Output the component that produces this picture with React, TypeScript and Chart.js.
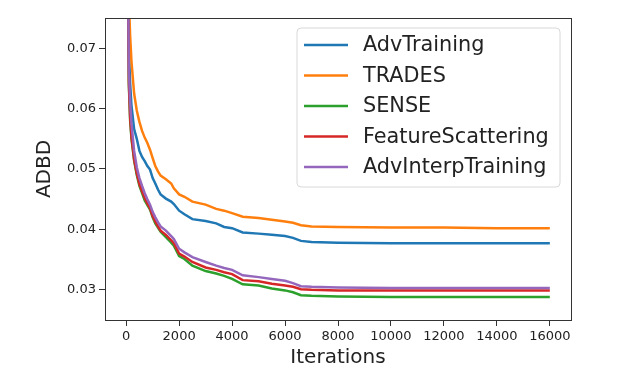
import React, { useEffect, useRef } from "react";
import { Chart, registerables } from "chart.js";

Chart.register(...registerables);

const iterations = [0, 100, 150, 200, 300, 400, 500, 600, 700, 800, 900, 1000, 1100, 1200, 1300, 1500, 1700, 1800, 2000, 2200, 2500, 3000, 3400, 3700, 4000, 4400, 5000, 5500, 6000, 6300, 6600, 7000, 8000, 10000, 12000, 14000, 16000];

const advTraining = [0.12, 0.070, 0.0641, 0.0605, 0.0566, 0.0550, 0.0530, 0.0520, 0.0513, 0.0505, 0.0499, 0.0485, 0.0476, 0.0466, 0.0458, 0.0451, 0.0446, 0.0442, 0.0431, 0.0425, 0.0417, 0.0414, 0.0410, 0.0404, 0.0402, 0.0395, 0.0393, 0.0391, 0.0389, 0.0386, 0.0381, 0.0379, 0.0378, 0.0377, 0.0377, 0.0377, 0.0377];
const trades = [0.13, 0.078, 0.072, 0.0678, 0.0625, 0.0597, 0.0578, 0.0563, 0.0552, 0.0543, 0.0532, 0.0518, 0.0505, 0.0496, 0.0489, 0.0483, 0.0476, 0.0468, 0.0458, 0.0454, 0.0446, 0.0441, 0.0434, 0.0431, 0.0427, 0.0421, 0.0419, 0.0416, 0.0413, 0.0411, 0.0407, 0.0405, 0.0404, 0.0403, 0.0403, 0.0402, 0.0402];
const sense = [0.12, 0.064, 0.058, 0.0550, 0.0514, 0.0490, 0.0472, 0.0460, 0.0448, 0.0440, 0.0433, 0.0420, 0.0410, 0.0403, 0.0396, 0.0387, 0.0378, 0.0373, 0.0356, 0.0351, 0.0340, 0.0331, 0.0327, 0.0323, 0.0318, 0.0309, 0.0307, 0.0302, 0.0299, 0.0296, 0.0291, 0.0290, 0.0289, 0.0288, 0.0288, 0.0288, 0.0288];
const featureScattering = [0.12, 0.0645, 0.0585, 0.0553, 0.0516, 0.0493, 0.0475, 0.0463, 0.0452, 0.0443, 0.0435, 0.0422, 0.0413, 0.0405, 0.0398, 0.0391, 0.0382, 0.0377, 0.0360, 0.0355, 0.0346, 0.0337, 0.0333, 0.0329, 0.0326, 0.0316, 0.0314, 0.0310, 0.0307, 0.0305, 0.0301, 0.0300, 0.0299, 0.0299, 0.0299, 0.0299, 0.0299];
const advInterpTraining = [0.12, 0.0665, 0.061, 0.0575, 0.0530, 0.0503, 0.0485, 0.0472, 0.0460, 0.0450, 0.0441, 0.0429, 0.0420, 0.0412, 0.0405, 0.0398, 0.0389, 0.0384, 0.0368, 0.0362, 0.0354, 0.0346, 0.0340, 0.0336, 0.0333, 0.0324, 0.0321, 0.0318, 0.0315, 0.0311, 0.0306, 0.0305, 0.0304, 0.0303, 0.0303, 0.0303, 0.0303];

const seriesNames = ["AdvTraining", "TRADES", "SENSE", "FeatureScattering", "AdvInterpTraining"];
const seriesValues = [advTraining, trades, sense, featureScattering, advInterpTraining];
const seriesColors = ["#1f77b4", "#ff7f0e", "#2ca02c", "#d62728", "#9467bd"];

const xTicks = [0, 2000, 4000, 6000, 8000, 10000, 12000, 14000, 16000];
const yTicks = [0.03, 0.04, 0.05, 0.06, 0.07];

const FONT = "'DejaVu Sans', sans-serif";

const frameAndLegend = {
  id: "frameAndLegend",
  afterDraw(chart: any) {
    const ctx = chart.ctx as CanvasRenderingContext2D;
    const a = chart.chartArea;
    ctx.save();
    ctx.strokeStyle = "#333";
    ctx.lineWidth = 1;
    ctx.strokeRect(Math.round(a.left) + 0.5, Math.round(a.top) + 0.5, Math.round(a.right - a.left), Math.round(a.bottom - a.top));

    // legend
    const bx = 297, by = 28, bw = 263, bh = 159, r = 4;
    ctx.beginPath();
    ctx.moveTo(bx + r, by);
    ctx.lineTo(bx + bw - r, by);
    ctx.quadraticCurveTo(bx + bw, by, bx + bw, by + r);
    ctx.lineTo(bx + bw, by + bh - r);
    ctx.quadraticCurveTo(bx + bw, by + bh, bx + bw - r, by + bh);
    ctx.lineTo(bx + r, by + bh);
    ctx.quadraticCurveTo(bx, by + bh, bx, by + bh - r);
    ctx.lineTo(bx, by + r);
    ctx.quadraticCurveTo(bx, by, bx + r, by);
    ctx.closePath();
    ctx.fillStyle = "rgba(255,255,255,0.8)";
    ctx.fill();
    ctx.strokeStyle = "#d8d8d8";
    ctx.lineWidth = 1;
    ctx.stroke();

    ctx.font = `20.8px ${FONT}`;
    ctx.textBaseline = "middle";
    ctx.textAlign = "left";
    seriesNames.forEach((name, i) => {
      const y = 45 + i * 30.5;
      ctx.strokeStyle = seriesColors[i];
      ctx.lineWidth = 2.5;
      ctx.beginPath();
      ctx.moveTo(304, y);
      ctx.lineTo(348, y);
      ctx.stroke();
      ctx.fillStyle = "#222";
      ctx.fillText(name, 363, y + 1);
    });
    ctx.restore();
  },
};

export default function App() {
  const ref = useRef<HTMLCanvasElement>(null);
  useEffect(() => {
    if (!ref.current) return;
    const datasets = seriesNames.map((name, i) => ({
      label: name,
      data: iterations.map((x, j) => ({ x, y: seriesValues[i][j] })),
      borderColor: seriesColors[i],
      backgroundColor: seriesColors[i],
      borderWidth: 2.5,
      pointRadius: 0,
      tension: 0,
      fill: false,
      order: seriesNames.length - 1 - i,
    }));
    const chart = new Chart(ref.current, {
      type: "line",
      data: { datasets },
      plugins: [frameAndLegend],
      options: {
        animation: false,
        responsive: false,
        devicePixelRatio: 1,
        layout: { padding: { left: 0, top: 18, right: 68, bottom: 0 } },
        plugins: { legend: { display: false }, tooltip: { enabled: false } },
        scales: {
          x: {
            type: "linear",
            min: -800,
            max: 16800,
            afterFit: (s: any) => { s.height = 66; },
            afterBuildTicks: (s: any) => { s.ticks = xTicks.map((v) => ({ value: v })); },
            grid: { drawOnChartArea: false, drawTicks: true, tickLength: 6, color: "#333", lineWidth: 1 },
            border: { display: true, color: "#333", width: 1 },
            ticks: {
              color: "#222",
              font: { family: FONT, size: 13 },
              padding: 3,
              maxRotation: 0,
              autoSkip: false,
              callback: (v: any) => String(v),
            },
            title: {
              display: true,
              text: "Iterations",
              color: "#222",
              font: { family: FONT, size: 20, lineHeight: 1 },
              padding: { top: 0, bottom: 18 },
            },
          },
          y: {
            type: "linear",
            min: 0.025,
            max: 0.075,
            afterFit: (s: any) => { s.width = 105; },
            afterBuildTicks: (s: any) => { s.ticks = yTicks.map((v) => ({ value: v })); },
            grid: { drawOnChartArea: false, drawTicks: true, tickLength: 6, color: "#333", lineWidth: 1 },
            border: { display: true, color: "#333", width: 1 },
            ticks: {
              color: "#222",
              font: { family: FONT, size: 13 },
              padding: 3,
              autoSkip: false,
              callback: (v: any) => Number(v).toFixed(2),
            },
            title: {
              display: true,
              text: "ADBD",
              color: "#222",
              font: { family: FONT, size: 20, lineHeight: 1 },
              padding: { top: 35, bottom: 0 },
            },
          },
        },
      },
    });
    return () => chart.destroy();
  }, []);
  return (
    <div style={{ position: "fixed", left: 0, top: 0, width: 639, height: 386, background: "#fff" }}>
      <canvas ref={ref} width={639} height={386} style={{ width: 639, height: 386 }} />
    </div>
  );
}
